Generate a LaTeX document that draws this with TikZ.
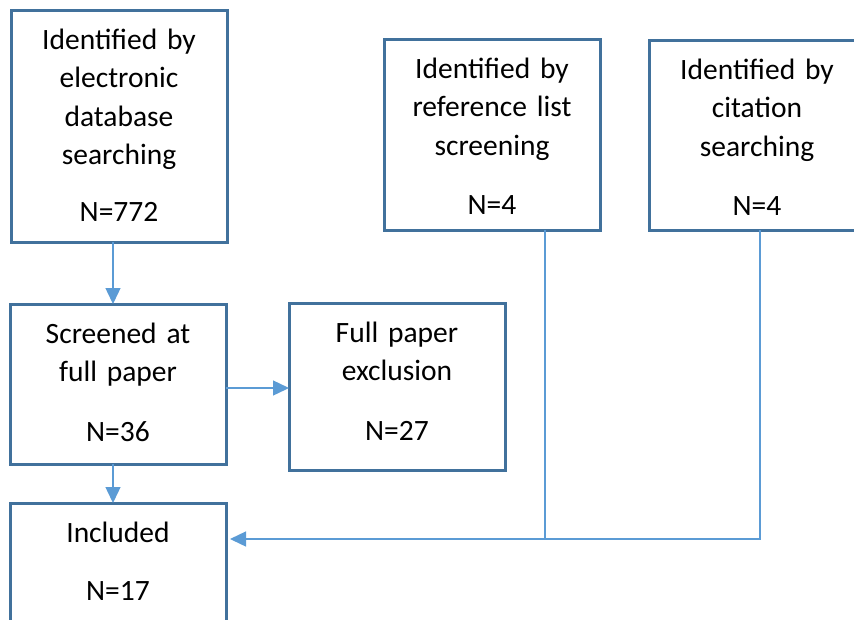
\documentclass[tikz,border=0pt]{standalone}
\usepackage{fontspec}
\setmainfont{Carlito}
\usepackage{xcolor}
\definecolor{boxblue}{RGB}{65, 113, 156}
\definecolor{flowblue}{RGB}{91, 155, 213}
\usepackage{tikz}
\usetikzlibrary{arrows.meta, positioning, calc}

\tikzset{
  stage/.style={draw=boxblue, line width=3pt, anchor=north west, outer sep=0pt,
    inner xsep=4pt, inner ysep=0pt, text width=208pt, align=center,
    text height=39pt, text depth=#1,
    font=\fontsize{29.5pt}{38.5pt}\selectfont},
  flow/.style={flowblue, line width=1.4pt}
}

\begin{document}
\begin{tikzpicture}[x=1pt, y=-1pt, >={Triangle[length=16pt, width=15pt]}]
    \useasboundingbox (0,0) rectangle (854,619);
    \clip (0,0) rectangle (854,619);
    % boxes
    \node[stage=193pt] (db) at (11,10) {Identified by\\electronic\\database\\searching\\[18pt]N=772};
    \node[stage=121pt] (screen) at (10,304) {Screened at\\full paper\\[21pt]N=36};
    \node[stage=128pt] (excl) at (289,303) {Full paper\\exclusion\\[21pt]N=27};
    \node[stage=121pt] (incl) at (10,503) {Included\\[20pt]N=17};
    \node[stage=152pt] (ref) at (384,39) {Identified by\\reference list\\screening\\[21pt]N=4};
    \node[stage=151pt] (cit) at (649,40) {Identified by\\citation\\searching\\[21pt]N=4};
    % connectors
    \coordinate (exit) at ([yshift=-4pt]screen.east);
    \coordinate (drop) at ([xshift=-5pt]screen.north);
    \coordinate (merge) at ([xshift=4pt, yshift=-36pt]incl.north east);
    \draw[flow, ->] (drop |- db.south) -- (drop);
    \draw[flow, ->] (exit) -- (excl.west |- exit);
    \draw[flow, ->] (drop |- screen.south) -- (drop |- incl.north);
    \draw[flow, ->] ([xshift=3pt]cit.south) |- (merge);
    \draw[flow] ([xshift=53pt]ref.south) -- ([xshift=53pt]ref.south |- merge);
\end{tikzpicture}
\end{document}
